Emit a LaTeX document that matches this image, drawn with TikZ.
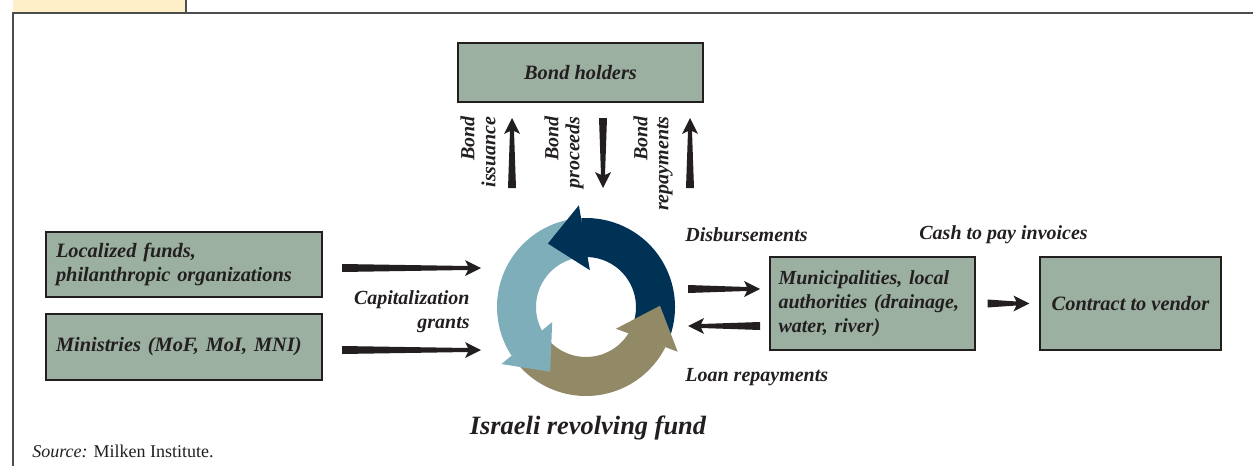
\documentclass[tikz,border=0pt]{standalone}
\usepackage{fontspec}
\setmainfont{Liberation Serif}
\usetikzlibrary{calc,positioning}

\definecolor{boxgreen}{HTML}{9BB0A0}
\definecolor{fundnavy}{HTML}{003255}
\definecolor{fundblue}{HTML}{7FAEBB}
\definecolor{fundolive}{HTML}{928966}
\definecolor{tabcream}{HTML}{FFEFC8}
\definecolor{ink}{HTML}{231F20}
\definecolor{rulegray}{HTML}{4D4D4D}

% tapered arrow, thick at the tail
\newcommand{\flowarrow}[2]{%
  \fill[ink] let \p1=($(#2)!8pt!(#1)$), \p2=($(#2)!6.5pt!(#1)$) in
    ($(#1)!2pt!90:(#2)$) -- ($(\p2)!1pt!90:(#2)$) -- ($(\p1)!4pt!90:(#2)$)
    -- (#2) -- ($(\p1)!4pt!-90:(#2)$) -- ($(\p2)!1pt!-90:(#2)$)
    -- ($(#1)!2pt!-90:(#2)$) -- cycle;}

\begin{document}
\begin{tikzpicture}[
    x=0.5pt, y=-0.5pt,
    box/.style={rectangle, draw=ink, line width=0.6pt, fill=boxgreen, inner sep=0pt,
                font=\fontsize{10.2}{12}\selectfont\bfseries\itshape, text=ink},
    lbl/.style={inner sep=0pt, font=\fontsize{10}{12}\selectfont\bfseries\itshape, text=ink},
    vlbl/.style={lbl, rotate=90, anchor=east, align=right,
                 font=\fontsize{10}{10.5}\selectfont\bfseries\itshape}
  ]
    \useasboundingbox (0,0) rectangle (1253,466);

    % page frame
    \fill[tabcream] (13,0) rectangle (186,13);
    \draw[rulegray, line width=0.8pt] (186,0) -- (186,13);
    \draw[rulegray, line width=1pt] (13,466) -- (13,13) -- (1253,13);

    % boxes
    \node[box, minimum width=122.5pt, minimum height=29.5pt] (bond) at (580.5,72.5) {Bond holders};
    \node[box, minimum width=138pt, minimum height=32.5pt, text width=128pt, align=left]
      (local) at (184,264.5) {Localized funds,\\philanthropic organizations};
    \node[box, minimum width=138pt, minimum height=33pt, text width=128pt, align=left]
      (minis) at (184,347) {Ministries (MoF, MoI, MNI)};
    \node[box, minimum width=102.5pt, minimum height=46.5pt, text width=94pt, align=left,
          font=\fontsize{10}{12}\selectfont\bfseries\itshape]
      (muni) at (872.5,303.5) {Municipalities, local\\authorities (drainage,\\water, river)};
    \node[box, minimum width=90.5pt, minimum height=46.5pt] (vendor) at (1130.5,303.5) {Contract to vendor};

    % revolving fund
    \node[circle, minimum size=89pt, inner sep=0pt] (fund) at (586,307) {};
    \begin{scope}[shift={(586,307)}]
      \foreach \b/\c in {90/fundnavy, 210/fundblue, 330/fundolive}
        \fill[\c] (\b-115:44.5pt) arc[start angle=\b-115, end angle=\b+3, radius=44.5pt]
          -- (\b+3:25pt) arc[start angle=\b+3, end angle=\b-115, radius=25pt] -- cycle;
      \foreach \b/\c in {90/fundnavy, 210/fundblue, 330/fundolive}
        \fill[\c] (\b-6:18.5pt) -- (\b+4:51pt) -- (\b+31:37pt) -- cycle;
    \end{scope}
    \node[lbl, font=\fontsize{13.2}{16}\selectfont\bfseries\itshape] (title) at (588,428) {Israeli revolving fund};

    % arrow ends
    \coordinate (capA1) at (342,268);
    \coordinate (capA2) at (481,268);
    \coordinate (capB1) at (342,350);
    \coordinate (capB2) at (481,350);
    \coordinate (issA) at (512,188);
    \coordinate (issB) at (512,118);
    \coordinate (proA) at (603,118);
    \coordinate (proB) at (603,188);
    \coordinate (repA) at (690,188);
    \coordinate (repB) at (690,118);
    \coordinate (disA) at (688,289);
    \coordinate (disB) at (760,289);
    \coordinate (loanA) at (760,326);
    \coordinate (loanB) at (688,326);
    \coordinate (payA) at ([xshift=6pt]muni.east);
    \coordinate (payB) at ([xshift=-5pt]vendor.west);

    \foreach \a/\b in {capA1/capA2, capB1/capB2, issA/issB, proA/proB, repA/repB,
                       disA/disB, loanA/loanB, payA/payB}
      \flowarrow{\a}{\b};

    % labels
    \node[vlbl] (issL) at (478,116) {Bond\\issuance};
    \node[vlbl] (proL) at (564,116) {Bond\\proceeds};
    \node[vlbl] (repL) at (653,116) {Bond\\repayments};
    \node[lbl, anchor=east, align=right] (capL) at (470,312) {Capitalization\\grants};
    \node[lbl, anchor=west] (disL) at (685,235) {Disbursements};
    \node[lbl, anchor=west] (loanL) at (685,377) {Loan repayments};
    \node[lbl, anchor=west] (cashL) at (919,235) {Cash to pay invoices};

    \node[anchor=west, inner sep=0pt, text=ink, font=\fontsize{9}{10}\selectfont]
      (src) at (32,451) {\textit{Source:} Milken Institute.};
\end{tikzpicture}
\end{document}
